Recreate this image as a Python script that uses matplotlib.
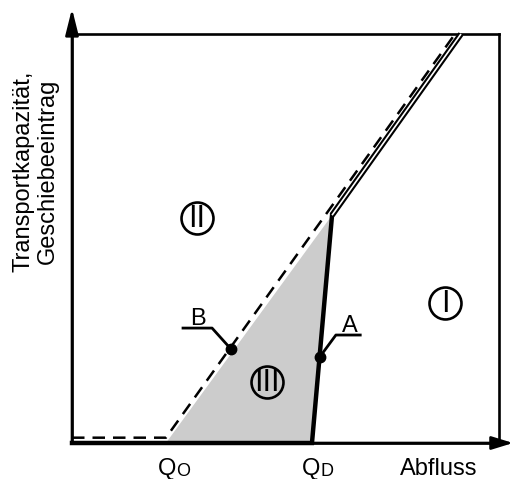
import matplotlib.pyplot as plt
from matplotlib.patches import Polygon

plt.rcParams['font.family'] = ['Liberation Sans', 'DejaVu Sans']

# Kurven (x = Abfluss, y = Transportkapazität / Geschiebeeintrag), Achsen 0..10
q_o = 2.20   # Beginn Geschiebetransport
q_d = 5.62   # Beginn Sohlaufbruch / Durchgang

kurve_b_x = [0.0, q_o, 8.97]      # gestrichelt (Geschiebeeintrag)
kurve_b_y = [0.13, 0.13, 10.0]
kurve_a_x = [0.0, q_d, 6.09]      # durchgezogen, unterer Teil
kurve_a_y = [0.0, 0.0, 5.57]
kurve_a_oben_x = [6.09, 9.11]     # durchgezogen, Doppellinie
kurve_a_oben_y = [5.57, 10.0]

# Fläche III
flaeche_x = [q_o, 6.09, q_d]
flaeche_y = [0.0, 5.57, 0.0]

# Punkte A und B mit Beschriftung
punkt_b = (3.72, 2.30)
punkt_a = (5.80, 2.10)
leader_b_x = [2.60, 3.28, punkt_b[0]]
leader_b_y = [2.81, 2.81, punkt_b[1]]
leader_a_x = [punkt_a[0], 6.18, 6.75]
leader_a_y = [punkt_a[1], 2.64, 2.64]

# Bereiche I, II, III
bereiche = ['I', 'II', 'III']
bereich_x = [8.74, 2.93, 4.57]
bereich_y = [3.42, 5.50, 1.49]

fig = plt.figure(figsize=(5.14, 4.79), dpi=100)
ax = fig.add_axes([72 / 514, 36 / 479, 427 / 514, 409 / 479])
ax.set_xlim(0, 10)
ax.set_ylim(0, 10)
ax.set_xticks([])
ax.set_yticks([])
for s in ax.spines.values():
    s.set_linewidth(1.9)

ax.add_patch(Polygon(list(zip(flaeche_x, flaeche_y)), closed=True,
                     facecolor='#cccccc', edgecolor='none', zorder=1))

ax.plot(kurve_b_x, kurve_b_y, color='black', lw=1.8, dashes=(5, 3.2),
        zorder=3, clip_on=False)
ax.plot(kurve_a_x, kurve_a_y, color='black', lw=3.2, zorder=4,
        solid_joinstyle='miter', clip_on=False)
ax.plot(kurve_a_oben_x, kurve_a_oben_y, color='black', lw=4.2, zorder=4,
        solid_capstyle='butt', clip_on=False)
ax.plot(kurve_a_oben_x, kurve_a_oben_y, color='white', lw=1.2, zorder=5,
        solid_capstyle='butt', clip_on=False)

# Achsenpfeile
ax.annotate('', xy=(0, 1.062), xytext=(0, 0), xycoords='axes fraction',
            arrowprops=dict(arrowstyle='-|>,head_length=1.6,head_width=0.4',
                            lw=1.9, color='black', shrinkA=0, shrinkB=0))
ax.annotate('', xy=(1.033, 0), xytext=(0, 0), xycoords='axes fraction',
            arrowprops=dict(arrowstyle='-|>,head_length=1.3,head_width=0.4',
                            lw=1.9, color='black', shrinkA=0, shrinkB=0))

# Punkte A, B
ax.plot(*punkt_b, 'o', color='black', ms=7.5, zorder=6)
ax.plot(*punkt_a, 'o', color='black', ms=7.5, zorder=6)
ax.plot(leader_b_x, leader_b_y, color='black', lw=2.0, zorder=6)
ax.plot(leader_a_x, leader_a_y, color='black', lw=2.0, zorder=6)
ax.text(2.95, 2.89, 'B', fontsize=17, ha='center', va='baseline')
ax.text(6.51, 2.71, 'A', fontsize=17, ha='center', va='baseline')

# Bereichskreise
for name, bx, by in zip(bereiche, bereich_x, bereich_y):
    ax.plot(bx, by, 'o', ms=23, mfc='none', mec='black', mew=1.9, zorder=6)
    ax.text(bx, by - 0.02, name, fontsize=22, ha='center', va='center',
            fontstretch='condensed', zorder=7)

# Achsenbeschriftungen
ax.text(q_o + 0.24, -0.78, 'Q', fontsize=17, ha='right', va='baseline',
        clip_on=False)
ax.text(q_o + 0.24, -0.80, 'O', fontsize=13, ha='left', va='baseline',
        clip_on=False)
ax.text(q_d + 0.19, -0.78, 'Q', fontsize=17, ha='right', va='baseline',
        clip_on=False)
ax.text(q_d + 0.19, -0.80, 'D', fontsize=13, ha='left', va='baseline',
        clip_on=False)
ax.text(7.68, -0.78, 'Abfluss', fontsize=17, ha='left', va='baseline',
        clip_on=False)

fig.text(36 / 514, 1 - 171 / 479, 'Transportkapazität,\nGeschiebeeintrag',
         rotation=90, fontsize=17, ha='center', va='center',
         multialignment='center', linespacing=1.15)

fig.savefig('out.png', dpi=100)
